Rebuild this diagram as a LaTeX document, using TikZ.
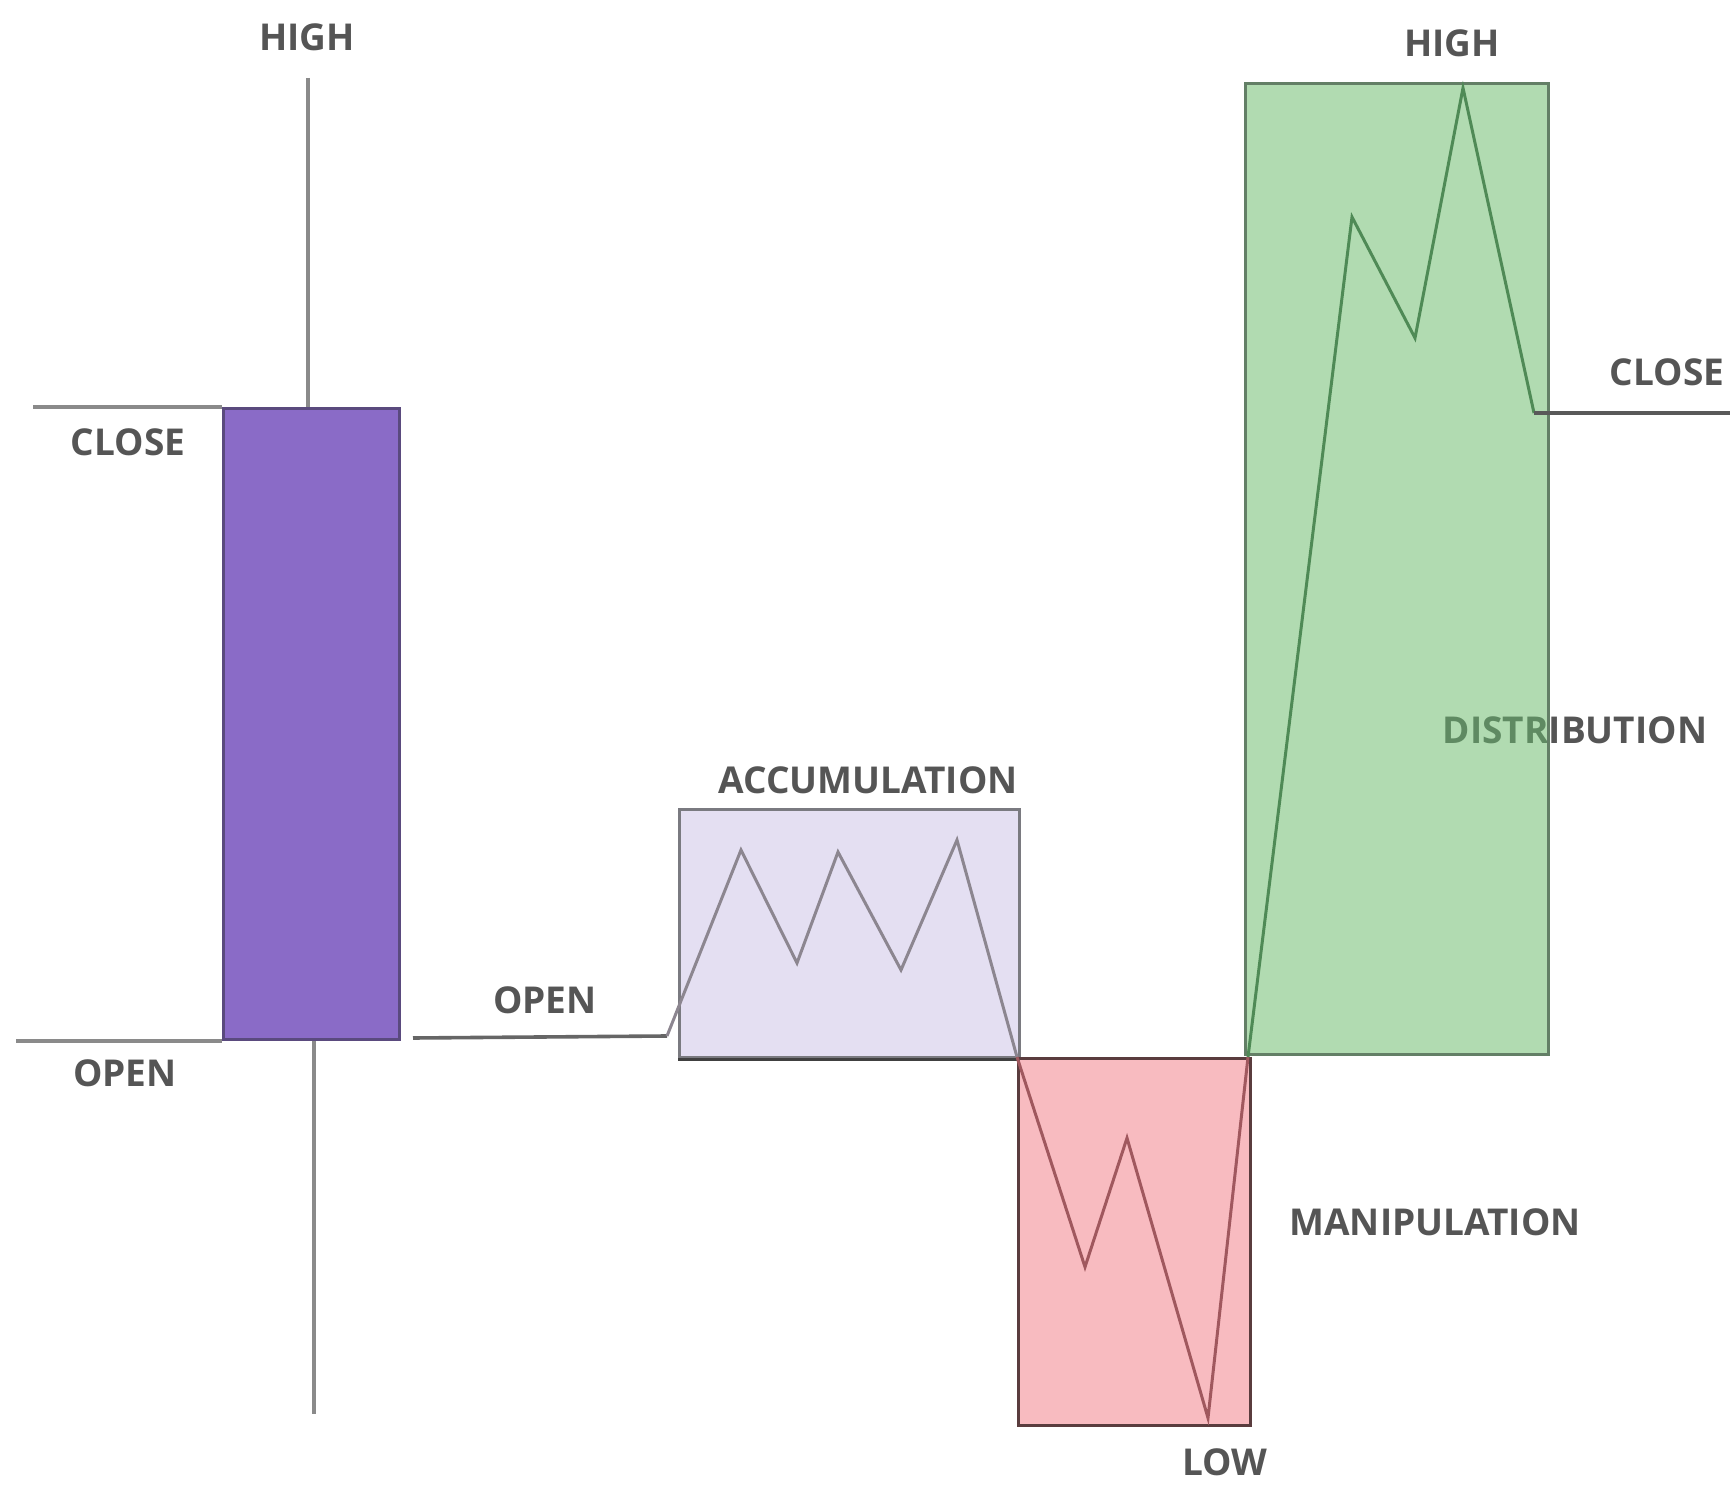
\documentclass[tikz,border=0pt]{standalone}
\usepackage{fontspec}
\setmainfont{Open Sans}
\begin{document}
\begin{tikzpicture}[x=0.5pt,y=-0.5pt,
  lbl/.style={font=\bfseries\fontsize{18.5}{20}\selectfont, text=labelgray, inner sep=0pt},
  wick/.style={draw=wickgray, line width=1.8pt},
  zig/.style={line width=1.5pt, line join=miter},
  disbox/.style={draw=disedge, line width=1.5pt, inner sep=0pt,
      minimum width=151.5pt, minimum height=485.5pt, anchor=north west}]
\definecolor{labelgray}{HTML}{555555}
\definecolor{wickgray}{HTML}{8A8A8A}
\definecolor{candlefill}{HTML}{8A6BC7}
\definecolor{candleedge}{HTML}{5A4A7E}
\definecolor{accfill}{HTML}{E4DFF2}
\definecolor{accedge}{HTML}{7A7A80}
\definecolor{manfill}{HTML}{F8BBC0}
\definecolor{manedge}{HTML}{5A3C3E}
\definecolor{disfill}{HTML}{B1DBB1}
\definecolor{disedge}{HTML}{637F66}
\definecolor{acczig}{HTML}{8C8690}
\definecolor{manzig}{HTML}{A0585E}
\definecolor{diszig}{HTML}{4F8A56}
\definecolor{distext}{HTML}{5F8A62}
\useasboundingbox (0,0) rectangle (1730,1491);

% ---------- first candle ----------
\coordinate (wtop) at (308,78);
\coordinate (wbot) at (314,1414);
\coordinate (cl1) at (33,407);
\coordinate (op1) at (16,1038);
\node[draw=candleedge, fill=candlefill, line width=1.4pt, inner sep=0pt,
      minimum width=88pt, minimum height=315.5pt, anchor=north west] (candle) at (222,407) {};
\draw[wick] (wtop) -- (wtop |- candle.north);
\draw[wick] (wbot |- candle.south) -- (wbot);
\draw[wick] (cl1 |- candle.north west) -- (candle.north west);
\draw[wick] (op1 |- candle.south west) -- (candle.south west);

\node[lbl] (high1) at (307,37) {HIGH};
\node[lbl] (close1) at (128,442) {CLOSE};
\node[lbl] (open1) at (125,1073) {OPEN};

% ---------- phase boxes ----------
\node[draw=accedge, fill=accfill, line width=1.5pt, inner sep=0pt,
      minimum width=170pt, minimum height=124pt, anchor=north west] (acc) at (678,808) {};
\draw[black!75, line width=1.5pt] (acc.south west) -- (acc.south east);
\node[draw=manedge, fill=manfill, line width=1.5pt, inner sep=0pt,
      minimum width=116pt, minimum height=183.5pt, anchor=north west] (man) at (1017,1057) {};

\node[lbl] (dist) at (1575,730) {DISTRIBUTION};
\node[disbox, fill=disfill] (dis) at (1244,82) {};
\begin{scope}
  \clip (dis.north west) rectangle (dis.south east);
  \node[lbl, text=distext] (dist2) at (1575,730) {DISTRIBUTION};
\end{scope}
\node[disbox] (disframe) at (1244,82) {};

% ---------- price path ----------
\coordinate (o2a) at (413,1038);
\coordinate (o2b) at (667,1036);
\coordinate (a1) at (741,850);
\coordinate (a2) at (797,963);
\coordinate (a3) at (838,852);
\coordinate (a4) at (901,970);
\coordinate (a5) at (957,840);
\coordinate (m0) at (1017,1057);
\coordinate (m1) at (1085,1267);
\coordinate (m2) at (1127,1138);
\coordinate (m3) at (1208,1418);
\coordinate (m4) at (1248,1057);
\coordinate (d1) at (1352,217);
\coordinate (d2) at (1415,338);
\coordinate (d3) at (1463,88);
\coordinate (d4) at (1534,413);
\coordinate (cl2) at (1730,413);

\draw[wick, draw=gray!80!black] (o2a) -- (o2b);
\draw[zig, acczig] (o2b) -- (a1) -- (a2) -- (a3) -- (a4) -- (a5) -- (m0);
\draw[zig, manzig] (m0) -- (m1) -- (m2) -- (m3) -- (m4);
\draw[zig, diszig] (m4) -- (d1) -- (d2) -- (d3) -- (d4);
\draw[wick, draw=gray!70!black] (d4) -- (cl2);

% ---------- labels ----------
\node[lbl] (open2) at (545,1000) {OPEN};
\node[lbl] (accl) at (868,780) {ACCUMULATION};
\node[lbl] (manl) at (1435,1222) {MANIPULATION};
\node[lbl] (low) at (1225,1462) {LOW};
\node[lbl] (high2) at (1452,43) {HIGH};
\node[lbl] (close2) at (1667,372) {CLOSE};
\end{tikzpicture}
\end{document}
